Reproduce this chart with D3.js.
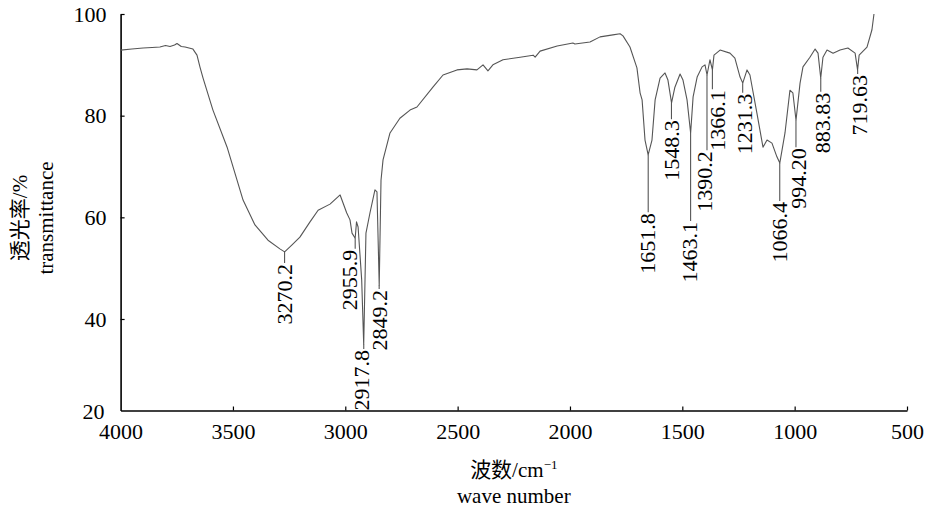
<!DOCTYPE html>
<html>
<head>
<meta charset="utf-8">
<script src="https://cdn.jsdelivr.net/npm/d3@7/dist/d3.min.js"></script>
<style>
  body { margin: 0; background: #fff; }
  svg text { font-family: "Liberation Serif", "Times New Roman", Times, "DejaVu Serif", "Noto Sans CJK SC", serif; fill: #000; }
</style>
</head>
<body>
<div id="chart-area"></div>
<script>
/*
*    IR spectrum - transmittance vs wave number
*/

// spectrum
var wavenumber = [4000, 3950, 3900, 3860, 3825, 3800, 3780, 3760, 3749, 3730, 3713, 3678, 3660, 3647, 3633, 3589, 3526,
	3455, 3402, 3344, 3291, 3270,
	3237, 3202, 3157, 3121, 3068, 3023, 2994, 2979, 2970, 2956, 2950, 2943, 2927, 2918, 2908, 2890, 2868, 2859, 2849,
	2841, 2832, 2801, 2757, 2712, 2681, 2610, 2565, 2503, 2458, 2414, 2387, 2365, 2343, 2298, 2222, 2164, 2155, 2133,
	2057, 1987, 1978, 1911, 1866, 1809, 1777, 1764, 1733, 1702, 1688, 1679, 1666, 1652, 1635, 1621, 1599, 1577, 1564,
	1548, 1533, 1510, 1497, 1479, 1463, 1452, 1434, 1412, 1399, 1390, 1377, 1366, 1359, 1332, 1288, 1266, 1243, 1231,
	1212, 1199, 1168, 1141, 1123, 1101, 1079, 1066, 1043, 1021, 1008, 994, 976, 963, 932, 909, 896, 884, 874, 856, 829,
	798, 763, 731, 720, 713, 678, 656, 647];
var transmittance = [92.9, 93.1, 93.3, 93.4, 93.5, 93.8, 93.6, 93.9, 94.2, 93.6, 93.5, 93.1, 91.9, 89.6, 87.4, 81.1, 73.8,
	63.4, 58.5, 55.5, 53.8, 53.2,
	54.6, 56.1, 59.1, 61.4, 62.6, 64.4, 60.9, 59.5, 56.9, 55.9, 59.1, 58.1, 47.7, 35.0, 56.9, 60.9, 65.4, 65.0, 46.7,
	67.3, 71.3, 76.6, 79.5, 81.1, 81.7, 85.6, 88.0, 89.0, 89.2, 89.0, 90.0, 88.8, 90.0, 91.0, 91.5, 91.9, 91.5, 92.7,
	93.7, 94.3, 94.1, 94.5, 95.5, 95.9, 96.1, 95.7, 93.5, 89.4, 84.5, 83.1, 75.2, 72.3, 75.2, 83.1, 87.4, 88.4, 87.0,
	82.5, 85.6, 88.2, 87.0, 83.1, 76.6, 83.7, 87.6, 89.6, 90.0, 88.0, 91.0, 89.0, 91.9, 92.9, 92.3, 91.3, 87.6, 86.4,
	89.0, 88.0, 80.5, 73.8, 75.2, 74.6, 71.9, 70.7, 76.6, 85.0, 84.5, 79.1, 86.4, 89.6, 91.5, 93.1, 92.3, 87.4, 91.5, 92.9, 92.3,
	92.9, 93.3, 92.3, 89.0, 91.9, 93.5, 96.9, 100];

// marked peaks
var peakNames = ["3270.2", "2955.9", "2917.8", "2849.2", "1651.8", "1548.3", "1463.1", "1390.2", "1366.1", "1231.3",
	"1066.4", "994.20", "883.83", "719.63"];
var peakWn = [3270.2, 2955.9, 2917.8, 2849.2, 1651.8, 1548.3, 1463.1, 1390.2, 1366.1, 1231.3, 1066.4, 994.2, 883.83, 719.63];
var peakT = [53.2, 55.9, 35.0, 46.7, 72.3, 82.5, 76.6, 88.0, 89.0, 86.4, 70.7, 79.1, 87.4, 89.0];
// transmittance where the label text starts (leader line ends there)
var labelT = [51.0, 53.8, 34.1, 45.9, 61.0, 79.3, 59.3, 73.2, 85.2, 84.5, 63.2, 73.8, 84.7, 88.2];

// ticks
var xTicks = [4000, 3500, 3000, 2500, 2000, 1500, 1000, 500];
var yTicks = [40, 60, 80, 100];

var width = 925;
var height = 508;
var fontStack = "'Liberation Serif', 'Times New Roman', Times, 'DejaVu Serif', 'Noto Sans CJK SC', serif";

// small sideways nudge of some labels (px)
var labelDx = [0, -5, -2, 1, 0, 0, -1, -2, 5, 2, 0, 3, 2, 2];

var svg = d3.select("#chart-area")
	.append("svg")
	.attr("width", width)
	.attr("height", height)
	.attr("font-family", fontStack);

var x = d3.scaleLinear()
	.domain([4000, 500])
	.range([120.6, 907]);

var y = d3.scaleLinear()
	.domain([22, 100])
	.range([410.5, 14]);

// bottom axis
var xAxisCall = d3.axisBottom(x)
	.tickValues(xTicks)
	.tickSizeInner(-4)
	.tickSizeOuter(0)
	.tickPadding(13)
	.tickFormat(d3.format("d"));

var gx = svg.append("g")
	.attr("class", "bottom axis")
	.attr("transform", "translate(0, " + y(22) + ")")
	.call(xAxisCall)
	.attr("font-family", fontStack);
gx.select(".domain").attr("stroke", "#000").attr("stroke-width", 1.6);
gx.selectAll(".tick line").attr("stroke", "#000").attr("stroke-width", 1.2);
gx.selectAll(".tick").filter((d) => d == 4000).select("line").remove();
gx.selectAll("text")
	.attr("font-size", "22px")
	.attr("fill", "#000");

// left axis
var yAxisCall = d3.axisLeft(y)
	.tickValues(yTicks)
	.tickSizeInner(-4)
	.tickSizeOuter(0)
	.tickPadding(14)
	.tickFormat((d) => { return d; });

var gy = svg.append("g")
	.attr("class", "left axis")
	.attr("transform", "translate(" + x(4000) + ", 0)")
	.call(yAxisCall)
	.attr("font-family", fontStack);
gy.select(".domain").attr("stroke", "#000").attr("stroke-width", 1.6);
gy.selectAll(".tick line").attr("stroke", "#000").attr("stroke-width", 1.2);
gy.selectAll("text")
	.attr("font-size", "22px")
	.attr("fill", "#000");

// the "20" sits under the corner
svg.append("text")
	.attr("x", x(4000) - 16)
	.attr("y", y(22) + 1)
	.attr("dy", "0.32em")
	.attr("font-size", "22px")
	.attr("text-anchor", "end")
	.text("20");

// spectrum line
var line = d3.line()
	.x((d, i) => x(wavenumber[i]))
	.y((d, i) => y(transmittance[i]));

svg.append("path")
	.datum(transmittance)
	.attr("fill", "none")
	.attr("stroke", "#555")
	.attr("stroke-width", 1.1)
	.attr("stroke-linejoin", "round")
	.attr("d", line);

// peak leaders + labels
var peaks = peakNames.map((n, i) => ({ name: n, wn: peakWn[i], t: peakT[i], lt: labelT[i], dx: labelDx[i] }));

svg.selectAll(".leader").data(peaks).enter()
	.append("line")
	.attr("class", "leader")
	.attr("x1", (d) => x(d.wn))
	.attr("x2", (d) => x(d.wn))
	.attr("y1", (d) => y(d.t))
	.attr("y2", (d) => y(d.lt))
	.attr("stroke", "#555")
	.attr("stroke-width", 1.1);

svg.selectAll(".peak-label").data(peaks).enter()
	.append("text")
	.attr("class", "peak-label")
	.attr("transform", (d) => "translate(" + (x(d.wn) + d.dx) + ", " + (y(d.lt) + 1) + ") rotate(-90)")
	.attr("text-anchor", "end")
	.attr("dy", "0.33em")
	.attr("font-size", "22px")
	.text((d) => d.name);

// y axis label
var yLab = svg.append("text")
	.attr("class", "y axis-label")
	.attr("transform", "translate(20, 218) rotate(-90)")
	.attr("text-anchor", "middle")
	.attr("font-size", "21px");
yLab.append("tspan").attr("x", 0).attr("dy", "0.35em").text("透光率/%");
yLab.append("tspan").attr("x", 0).attr("dy", "1.2em").text("transmittance");

// x axis label
var xLab = svg.append("text")
	.attr("class", "x axis-label")
	.attr("x", (x(4000) + x(500)) / 2)
	.attr("y", 477)
	.attr("text-anchor", "middle")
	.attr("font-size", "21px");
xLab.append("tspan").text("波数/cm");
xLab.append("tspan").attr("font-size", "13px").attr("dy", "-0.6em").text("−1");

svg.append("text")
	.attr("class", "x axis-label")
	.attr("x", (x(4000) + x(500)) / 2)
	.attr("y", 503)
	.attr("text-anchor", "middle")
	.attr("font-size", "21px")
	.text("wave number");
</script>
</body>
</html>
